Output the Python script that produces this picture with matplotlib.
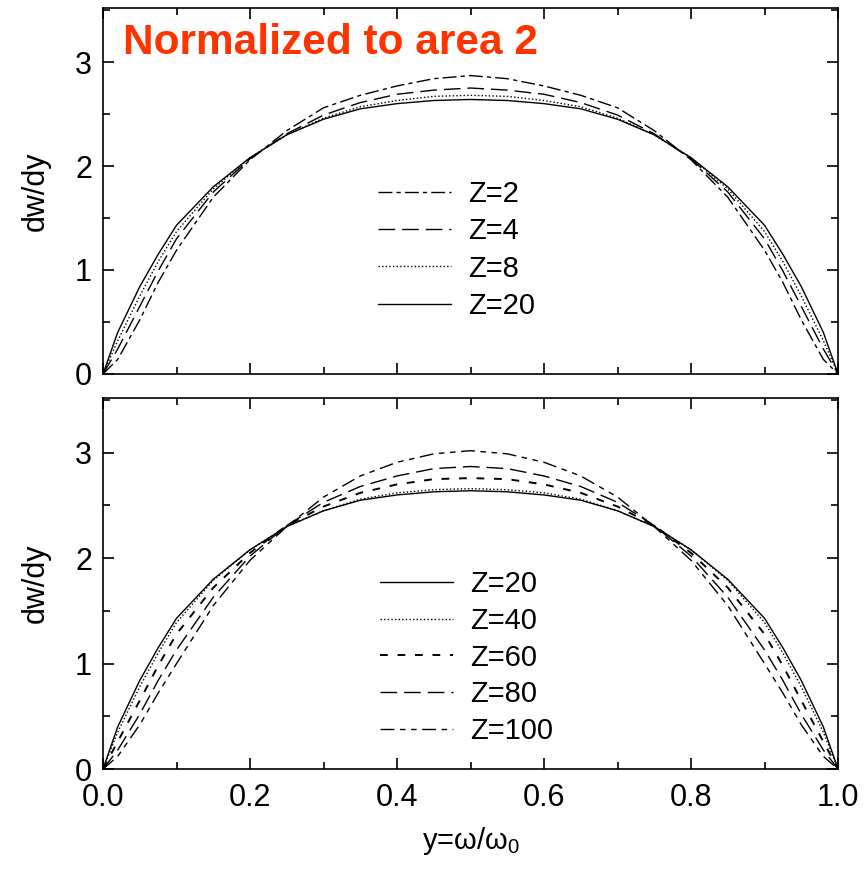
import matplotlib
matplotlib.use("Agg")
import matplotlib.pyplot as plt
from matplotlib.ticker import MultipleLocator, FormatStrFormatter

plt.rcParams["font.family"] = ["Liberation Sans", "DejaVu Sans"]
plt.rcParams["mathtext.fontset"] = "custom"
plt.rcParams["mathtext.rm"] = "Liberation Sans"

# photon energy fraction y = omega/omega_0
y_vals = [0.0, 0.02, 0.05, 0.075, 0.1, 0.15, 0.2, 0.25, 0.3, 0.35, 0.4, 0.45, 0.5,
          0.55, 0.6, 0.65, 0.7, 0.75, 0.8, 0.85, 0.9, 0.925, 0.95, 0.98, 1.0]

# top panel: low Z
dw_z2 = [0, 0.14, 0.52, 0.88, 1.19, 1.70, 2.06, 2.34, 2.56, 2.68, 2.77, 2.84, 2.87,
         2.84, 2.77, 2.68, 2.56, 2.34, 2.06, 1.70, 1.19, 0.88, 0.52, 0.14, 0]
dw_z4 = [0, 0.24, 0.65, 0.99, 1.30, 1.75, 2.07, 2.31, 2.49, 2.61, 2.69, 2.73, 2.75,
         2.73, 2.69, 2.61, 2.49, 2.31, 2.07, 1.75, 1.30, 0.99, 0.65, 0.24, 0]
dw_z8 = [0, 0.32, 0.75, 1.08, 1.37, 1.78, 2.08, 2.30, 2.46, 2.57, 2.63, 2.67, 2.68,
         2.67, 2.63, 2.57, 2.46, 2.30, 2.08, 1.78, 1.37, 1.08, 0.75, 0.32, 0]
dw_z20 = [0, 0.40, 0.84, 1.15, 1.43, 1.80, 2.08, 2.30, 2.45, 2.55, 2.60, 2.63, 2.64,
          2.63, 2.60, 2.55, 2.45, 2.30, 2.08, 1.80, 1.43, 1.15, 0.84, 0.40, 0]

# bottom panel: high Z
dw_z40 = [0, 0.35, 0.78, 1.10, 1.39, 1.79, 2.08, 2.30, 2.45, 2.56, 2.62, 2.65, 2.66,
          2.65, 2.62, 2.56, 2.45, 2.30, 2.08, 1.79, 1.39, 1.10, 0.78, 0.35, 0]
dw_z60 = [0, 0.26, 0.65, 0.98, 1.28, 1.72, 2.05, 2.31, 2.49, 2.62, 2.70, 2.75, 2.76,
          2.75, 2.70, 2.62, 2.49, 2.31, 2.05, 1.72, 1.28, 0.98, 0.65, 0.26, 0]
dw_z80 = [0, 0.18, 0.52, 0.84, 1.13, 1.63, 2.02, 2.31, 2.53, 2.68, 2.78, 2.85, 2.87,
          2.85, 2.78, 2.68, 2.53, 2.31, 2.02, 1.63, 1.13, 0.84, 0.52, 0.18, 0]
dw_z100 = [0, 0.12, 0.42, 0.72, 1.00, 1.55, 1.98, 2.30, 2.58, 2.78, 2.91, 2.99, 3.02,
           2.99, 2.91, 2.78, 2.58, 2.30, 1.98, 1.55, 1.00, 0.72, 0.42, 0.12, 0]

top_labels = ["Z=2", "Z=4", "Z=8", "Z=20"]
bottom_labels = ["Z=20", "Z=40", "Z=60", "Z=80", "Z=100"]

# dash patterns
DASHDOT = (0, (10, 3, 3, 3))
LONGDASH = (0, (12, 5))
DOTTED = (0, (1, 1.6))
SHORTDASH = (0, (4, 5))
DASHDOTDOT = (0, (10, 4, 4, 4, 4, 4))


def style_axes(ax, show_xlabels):
    ax.set_xlim(0, 1)
    ax.set_ylim(0, 3.52)
    ax.xaxis.set_major_locator(MultipleLocator(0.2))
    ax.xaxis.set_minor_locator(MultipleLocator(0.1))
    ax.yaxis.set_major_locator(MultipleLocator(1))
    ax.yaxis.set_minor_locator(MultipleLocator(0.5))
    ax.tick_params(which="both", direction="in", top=True, right=True,
                   labelsize=22, width=1.2)
    ax.tick_params(axis="y", pad=8)
    ax.tick_params(axis="x", pad=10)
    ax.tick_params(which="major", length=8)
    ax.tick_params(which="minor", length=5)
    if show_xlabels:
        ax.xaxis.set_major_formatter(FormatStrFormatter("%.1f"))
    else:
        ax.tick_params(labelbottom=False)
    for s in ax.spines.values():
        s.set_linewidth(1.2)
    ax.set_ylabel("dw/dy", fontsize=22, labelpad=17)


fig = plt.figure(figsize=(8.67, 8.76), dpi=100)
ax1 = fig.add_axes([0.1188, 0.5731, 0.8478, 0.4178])
ax2 = fig.add_axes([0.1188, 0.1221, 0.8478, 0.4236])

lw = 1.0
h1 = []
h1 += ax1.plot(y_vals, dw_z2, color="black", lw=lw, linestyle=DASHDOT)
h1 += ax1.plot(y_vals, dw_z4, color="black", lw=lw, linestyle=LONGDASH)
h1 += ax1.plot(y_vals, dw_z8, color="black", lw=lw, linestyle=DOTTED)
h1 += ax1.plot(y_vals, dw_z20, color="black", lw=lw, linestyle="-")
style_axes(ax1, False)
ax1.legend(h1, top_labels, loc="upper left", bbox_to_anchor=(378 / 867, 1 - 180 / 876),
           bbox_transform=fig.transFigure, frameon=False, fontsize=21,
           handlelength=2.5, handletextpad=0.6, labelspacing=0.32,
           borderpad=0, borderaxespad=0)
ax1.text(123 / 867, 1 - 43 / 876, "Normalized to area 2", transform=fig.transFigure,
         color="#FF3300", fontsize=30.5, fontweight="bold", va="center", ha="left")

h2 = []
h2 += ax2.plot(y_vals, dw_z20, color="black", lw=lw, linestyle="-")
h2 += ax2.plot(y_vals, dw_z40, color="black", lw=lw, linestyle=DOTTED)
h2 += ax2.plot(y_vals, dw_z60, color="black", lw=1.4, linestyle=SHORTDASH)
h2 += ax2.plot(y_vals, dw_z80, color="black", lw=lw, linestyle=LONGDASH)
h2 += ax2.plot(y_vals, dw_z100, color="black", lw=lw, linestyle=DASHDOTDOT)
style_axes(ax2, True)
ax2.legend(h2, bottom_labels, loc="upper left", bbox_to_anchor=(380 / 867, 1 - 570 / 876),
           bbox_transform=fig.transFigure, frameon=False, fontsize=21,
           handlelength=2.5, handletextpad=0.6, labelspacing=0.3,
           borderpad=0, borderaxespad=0)
ax2.set_xlabel(r"y=ω/ω$_0$", fontsize=21, labelpad=9)

fig.savefig("out.png", dpi=100)
